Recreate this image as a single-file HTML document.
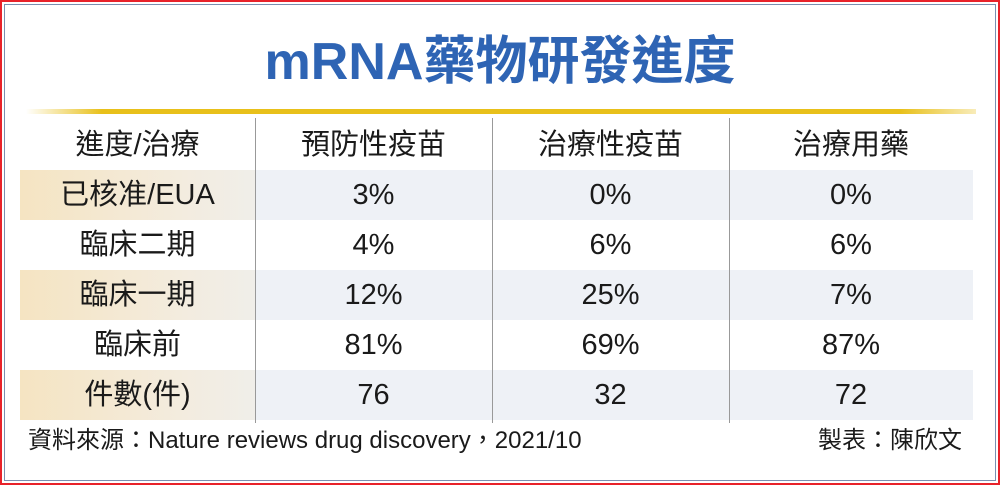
<!DOCTYPE html>
<html><head><meta charset="utf-8"><style>
*{margin:0;padding:0;box-sizing:border-box}
body{width:1000px;height:485px;background:#fff;position:relative;overflow:hidden;font-family:"Liberation Sans","Noto Sans CJK TC",sans-serif;color:#1a1a1a}
.red{position:absolute;left:0;top:0;width:1000px;height:485px;border:2px solid #e8222a}
.blue{position:absolute;left:4px;top:4px;width:992px;height:477px;border:1px solid #7a8fb0}
.title{position:absolute;left:0;width:1000px;top:32px;text-align:center;font-size:52px;font-weight:bold;color:#2e64b4;line-height:60px}
.gold{position:absolute;left:26px;top:109px;width:950px;height:5px;background:linear-gradient(90deg,rgba(232,192,26,0),#e8c01a 8%,#e8c01a 92%,rgba(232,192,26,0.3))}
.row{position:absolute;left:20px;width:953px;height:50px}
.sh{background:#eef1f6}
.sh .c0{background:linear-gradient(90deg,#f5e4c2,#f3ecdf 70%,#f0eee9)}
.cell{position:absolute;top:0;height:50px;line-height:50px;text-align:center;font-size:29px}
.c0{left:0;width:235px}.c1{left:235px;width:237px}.c2{left:472px;width:237px}.c3{left:709px;width:244px}
.vl{position:absolute;top:118px;height:305px;width:1px;background:#999}
.foot{position:absolute;top:426px;font-size:24px;line-height:30px}
</style></head><body>
<div class="red"></div><div class="blue"></div>
<div class="title">mRNA藥物研發進度</div>
<div class="gold"></div>
<div class="row" style="top:120px"><div class="cell c0">進度/治療</div><div class="cell c1">預防性疫苗</div><div class="cell c2">治療性疫苗</div><div class="cell c3">治療用藥</div></div>
<div class="row sh" style="top:170px"><div class="cell c0">已核准/EUA</div><div class="cell c1">3%</div><div class="cell c2">0%</div><div class="cell c3">0%</div></div>
<div class="row" style="top:220px"><div class="cell c0">臨床二期</div><div class="cell c1">4%</div><div class="cell c2">6%</div><div class="cell c3">6%</div></div>
<div class="row sh" style="top:270px"><div class="cell c0">臨床一期</div><div class="cell c1">12%</div><div class="cell c2">25%</div><div class="cell c3">7%</div></div>
<div class="row" style="top:320px"><div class="cell c0">臨床前</div><div class="cell c1">81%</div><div class="cell c2">69%</div><div class="cell c3">87%</div></div>
<div class="row sh" style="top:370px"><div class="cell c0">件數(件)</div><div class="cell c1">76</div><div class="cell c2">32</div><div class="cell c3">72</div></div>
<div class="vl" style="left:255px"></div><div class="vl" style="left:492px"></div><div class="vl" style="left:729px"></div>
<div class="foot" style="left:28px">資料來源：Nature reviews drug discovery，2021/10</div>
<div class="foot" style="left:818px">製表：陳欣文</div>
</body></html>
